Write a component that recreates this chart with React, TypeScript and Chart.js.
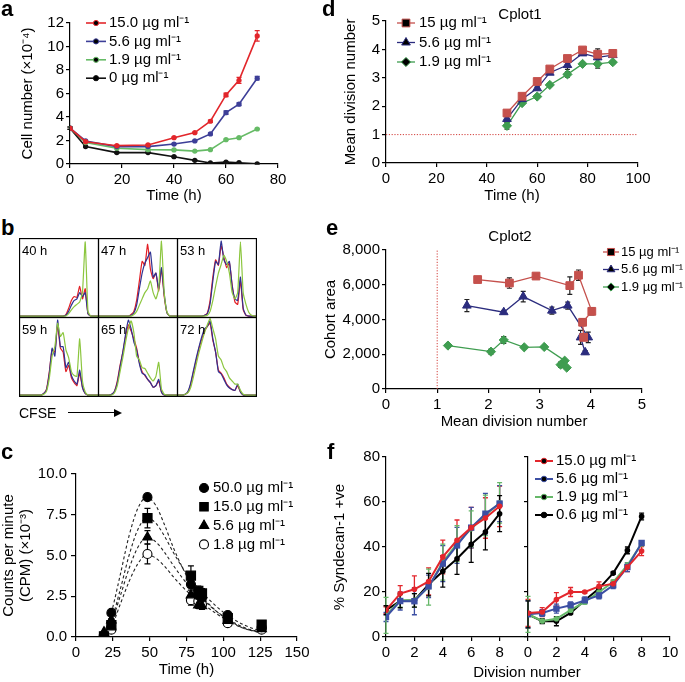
import React, { useEffect, useRef } from 'react';
import { Chart, registerables } from 'chart.js';
import * as helpers from 'chart.js/helpers';

Chart.register(...registerables);

const FONT = '"Liberation Sans", Arial, Helvetica, sans-serif';
Chart.defaults.font.family = FONT;
Chart.defaults.font.size = 15;
Chart.defaults.color = '#000';

// ---------------- DATA ----------------
// Panel a
const aTime = [0, 6, 18, 30, 40, 48, 54, 60, 65, 72];
const a15 = [3.05, 1.9, 1.56, 1.62, 2.24, 2.67, 3.64, 5.88, 7.12, 10.9];
const a56 = [3.05, 1.96, 1.48, 1.48, 1.7, 1.96, 2.56, 4.37, 5.09, 7.3];
const a19 = [3.05, 1.82, 1.34, 1.22, 1.2, 1.1, 1.22, 2.07, 2.24, 2.98];
const a0 = [3.05, 1.48, 0.97, 0.97, 0.62, 0.31, 0.09, 0.17, 0.11, 0.02];
const a15Err = [0.1, 0.05, 0.05, 0.05, 0.05, 0.05, 0.1, 0.15, 0.25, 0.45];
const a56Err = [0.1, 0.05, 0.05, 0.05, 0.05, 0.05, 0.08, 0.15, 0.12, 0.15];
const a19Err = [0.1, 0.05, 0.05, 0.05, 0.05, 0.05, 0.05, 0.05, 0.05, 0.05];
const a0Err = [0.1, 0.05, 0.05, 0.05, 0.05, 0.05, 0.03, 0.03, 0.03, 0.03];
const aLabels = ['15.0 µg ml⁻¹', '5.6 µg ml⁻¹', '1.9 µg ml⁻¹', '0 µg ml⁻¹'];

// Panel d
const dTime = [48, 54, 60, 65, 72, 78, 84, 90];
const d15 = [1.76, 2.35, 2.87, 3.31, 3.68, 3.98, 3.83, 3.86];
const d56 = [1.55, 2.25, 2.63, 3.18, 3.45, 3.86, 3.72, 3.8];
const d19 = [1.31, 2.11, 2.34, 2.75, 3.12, 3.49, 3.49, 3.55];
const d15Err = [0.05, 0.05, 0.05, 0.05, 0.05, 0.05, 0.1, 0.05];
const d56Err = [0.1, 0.05, 0.05, 0.05, 0.15, 0.05, 0.3, 0.05];
const d19Err = [0.12, 0.05, 0.05, 0.05, 0.1, 0.05, 0.15, 0.05];
const deLabels = ['15 µg ml⁻¹', '5.6 µg ml⁻¹', '1.9 µg ml⁻¹'];

// Panel e
const e15x = [1.79, 2.41, 2.93, 3.59, 3.76, 4.02, 3.84, 3.86];
const e15y = [6300, 6100, 6500, 5950, 6550, 4470, 3840, 2970];
const e15Err = [0, 300, 0, 500, 300, 200, 200, 0];
const e56x = [1.58, 2.3, 2.68, 3.24, 3.55, 3.95, 3.8, 3.89];
const e56y = [4800, 4420, 5320, 4510, 4800, 2970, 2970, 2110];
const e56Err = [350, 100, 300, 200, 200, 300, 400, 100];
const e19x = [1.21, 2.05, 2.3, 2.7, 3.09, 3.49, 3.41, 3.53];
const e19y = [2500, 2150, 2820, 2400, 2420, 1630, 1400, 1230];
const e19Err = [50, 150, 200, 50, 50, 50, 150, 50];

// Panel c
const cTime = [19, 24, 48.5, 78, 83, 85.5, 103, 126];
const c50 = [0.05, 1.48, 8.58, 3.23, 2.55, 2.4, 1.35, 0.6];
const c15 = [0.04, 0.72, 7.29, 3.76, 2.83, 2.67, 1.15, 0.76];
const c56 = [0.3, 1.03, 6.12, 2.57, 1.95, 1.9, 1.0, 0.5];
const c18 = [0.1, 0.45, 5.09, 2.26, 2.2, 2.0, 0.85, 0.45];
const c50Err = [0, 0.1, 0.1, 0.2, 0.2, 0.2, 0.1, 0.1];
const c15Err = [0, 0.1, 0.6, 0.6, 0.3, 0.3, 0.1, 0.1];
const c56Err = [0, 0.1, 0.4, 0.3, 0.2, 0.2, 0.1, 0.1];
const c18Err = [0, 0.1, 0.6, 0.3, 0.2, 0.2, 0.1, 0.1];
const cFitTime = [19, 24, 30, 36, 42, 48, 54, 60, 66, 72, 78, 85, 95, 105, 115, 126];
const cFit50 = [0.2, 1.5, 3.8, 6.2, 7.9, 8.57, 8.1, 6.9, 5.5, 4.3, 3.3, 2.55, 1.6, 0.95, 0.5, 0.25];
const cFit15 = [0.1, 1.0, 2.9, 5.0, 6.6, 7.3, 7.0, 6.2, 5.2, 4.3, 3.55, 2.8, 1.9, 1.2, 0.7, 0.35];
const cFit56 = [0.1, 0.9, 2.5, 4.2, 5.5, 6.1, 5.85, 5.2, 4.4, 3.65, 3.0, 2.4, 1.6, 1.0, 0.55, 0.3];
const cFit18 = [0.05, 0.6, 2.0, 3.4, 4.5, 5.05, 4.85, 4.35, 3.7, 3.1, 2.6, 2.1, 1.45, 0.9, 0.5, 0.28];
const cLabels = ['50.0 µg ml⁻¹', '15.0 µg ml⁻¹', '5.6 µg ml⁻¹', '1.8 µg ml⁻¹'];

// Panel f
const fDiv = [0, 1, 2, 3, 4, 5, 6, 7, 8];
const fL15 = [11.9, 19.3, 21.2, 24.7, 35.6, 43, 48.6, 52.9, 58.1];
const fL56 = [8.9, 16, 15.9, 22.5, 32.6, 40.7, 48.6, 54.8, 59.3];
const fL19 = [9.6, 16.3, 16.3, 22.2, 33.3, 41.5, 48.1, 54.1, 59.6];
const fL06 = [11.9, 16, 16.3, 23.3, 29.2, 34.8, 41.2, 46.7, 54.8];
const fL15Err = [1.5, 3.5, 6, 6, 7.5, 9, 9, 9, 9];
const fL56Err = [2, 4, 6, 5, 8, 8, 9, 9, 8];
const fL19Err = [8, 3, 3, 8, 8, 8, 8, 9, 9];
const fL06Err = [2, 3, 3, 5, 7, 7, 8, 8, 8];
const fR15 = [10.7, 11.1, 16.7, 20, 20, 22.5, 23.7, 31.1, 38.2];
const fR56 = [10.1, 10.7, 12.6, 14.1, 16.3, 18.5, 23, 31.1, 41.8];
const fR19 = [10.1, 7.1, 8.1, 11.9, 15.6, 20, 24.4, 31.9, 41.5];
const fR06 = [10.1, 7.0, 7.0, 10.7, 16.3, 21.5, 28.4, 38.5, 53.6];
const fR15Err = [6, 2, 3, 2, 0.5, 2, 1.5, 2, 2];
const fR56Err = [6, 1.5, 2, 1.5, 1.5, 1.5, 1.5, 2, 1];
const fR19Err = [8, 1, 1, 1, 1, 1, 1, 1, 1];
const fR06Err = [6, 1, 2, 0.5, 0.5, 0.5, 0.5, 1.5, 1.5];
const fLabels = ['15.0 µg ml⁻¹', '5.6 µg ml⁻¹', '1.9 µg ml⁻¹', '0.6 µg ml⁻¹'];

// Panel b (CFSE histograms, 30 bins, relative height)
const bTimes = ['40 h', '47 h', '53 h', '59 h', '65 h', '72 h'];
const h40r = [0,0,0,0,0,0,0,0,0,0, 0,0,0,0,0,0,0,0.02,0.1,0.2, 0.25,0.24,0.38,0.22,0.35,0.03,0,0,0,0];
const h40b = [0,0,0,0,0,0,0,0,0,0, 0,0,0,0,0,0,0,0.01,0.06,0.14, 0.2,0.22,0.3,0.25,0.3,0.03,0,0,0,0];
const h40g = [0,0,0,0,0,0,0,0,0,0, 0,0,0,0,0,0,0,0,0.03,0.08, 0.12,0.15,0.18,0.3,0.95,0.06,0,0,0,0];
const h47r = [0,0,0,0,0,0,0,0,0,0, 0,0,0.02,0.06,0.2,0.45,0.7,0.65,0.92,0.6, 0.48,0.55,0.32,0.6,0.25,0.04,0,0,0,0];
const h47b = [0,0,0,0,0,0,0,0,0,0, 0,0,0.01,0.04,0.14,0.35,0.55,0.68,0.75,0.82, 0.5,0.55,0.35,0.62,0.28,0.04,0,0,0,0];
const h47g = [0,0,0,0,0,0,0,0,0,0, 0,0,0,0.02,0.06,0.14,0.22,0.3,0.35,0.45, 0.3,0.22,0.35,0.96,0.3,0.05,0,0,0,0];
const h53r = [0,0,0,0,0,0,0,0,0,0, 0.01,0.04,0.2,0.5,0.72,0.65,0.9,0.75,0.62,0.68, 0.4,0.18,0.15,0.45,0.08,0.01,0,0,0,0];
const h53b = [0,0,0,0,0,0,0,0,0,0, 0.01,0.03,0.16,0.45,0.7,0.66,0.96,0.72,0.66,0.7, 0.38,0.22,0.2,0.5,0.1,0.01,0,0,0,0];
const h53g = [0,0,0,0,0,0,0,0,0,0, 0,0.01,0.06,0.2,0.38,0.55,0.66,0.78,0.7,0.55, 0.3,0.22,0.3,0.95,0.3,0.15,0.05,0.01,0,0];
const h59r = [0,0,0,0,0,0,0,0,0,0.02, 0.08,0.3,0.58,0.55,0.9,0.6,0.55,0.3,0.38,0.22, 0.16,0.12,0.28,0.1,0.02,0,0,0,0,0];
const h59b = [0,0,0,0,0,0,0,0,0,0.02, 0.07,0.28,0.6,0.5,0.96,0.62,0.62,0.35,0.42,0.25, 0.18,0.14,0.32,0.1,0.02,0,0,0,0,0];
const h59g = [0,0,0,0,0,0,0,0,0,0.01, 0.05,0.22,0.5,0.62,0.92,0.75,0.8,0.58,0.48,0.3, 0.25,0.24,0.72,0.18,0.04,0,0,0,0,0];
const h65r = [0,0,0,0,0,0.01,0.05,0.18,0.38,0.55, 0.75,0.9,0.82,0.72,0.6,0.42,0.3,0.25,0.2,0.16, 0.1,0.12,0.18,0.04,0,0,0,0,0,0];
const h65b = [0,0,0,0,0,0.01,0.05,0.16,0.36,0.55, 0.78,0.96,0.85,0.68,0.58,0.4,0.28,0.26,0.2,0.16, 0.1,0.12,0.2,0.04,0,0,0,0,0,0];
const h65g = [0,0,0,0,0,0,0.03,0.12,0.3,0.48, 0.68,0.85,0.95,0.8,0.5,0.45,0.35,0.34,0.28,0.22, 0.18,0.24,0.42,0.08,0.01,0,0,0,0,0];
const h72r = [0,0,0,0.01,0.04,0.14,0.3,0.45,0.6,0.72, 0.82,0.88,0.92,0.7,0.55,0.32,0.28,0.22,0.14,0.1, 0.07,0.06,0.12,0.04,0,0,0,0,0,0];
const h72b = [0,0,0,0.01,0.05,0.16,0.32,0.48,0.62,0.75, 0.85,0.88,0.95,0.72,0.55,0.3,0.27,0.2,0.13,0.09, 0.07,0.06,0.14,0.04,0,0,0,0,0,0];
const h72g = [0,0,0,0.01,0.03,0.1,0.24,0.4,0.55,0.68, 0.8,0.9,0.98,0.85,0.72,0.5,0.45,0.35,0.3,0.22, 0.18,0.14,0.14,0.06,0.01,0,0,0,0,0];
const bRed = [h40r, h47r, h53r, h59r, h65r, h72r];
const bBlue = [h40b, h47b, h53b, h59b, h65b, h72b];
const bGreen = [h40g, h47g, h53g, h59g, h65g, h72g];

// ---------------- STYLE ----------------
const A_COL = ['#e2262b', '#3d3f98', '#66bb66', '#111111'];
const DE_COL = ['#c5504c', '#2b2c7e', '#3f9d50'];
const F_COL = ['#e3262c', '#3c4fa3', '#66b869', '#000000'];
const B_COL = { r: '#e31e24', b: '#2e3192', g: '#8cc63f' };

// ---------------- PLUGINS ----------------
const textsPlugin = {
  id: 'texts',
  afterDraw(chart: any, _a: any, opts: any) {
    const items = opts && opts.items;
    if (!items) return;
    const ctx = chart.ctx;
    ctx.save();
    for (let i = 0; i < items.length; i++) {
      const it = items[i];
      ctx.font = `${it.bold ? 'bold ' : ''}${it.size || 15}px ${FONT}`;
      ctx.fillStyle = it.color || '#000';
      ctx.textAlign = it.align || 'left';
      ctx.textBaseline = 'middle';
      ctx.fillText(it.text, it.x, it.y);
    }
    ctx.restore();
  },
};

const legendPlugin = {
  id: 'miniLegend',
  afterDraw(chart: any, _a: any, o: any) {
    if (!o || !o.items) return;
    const ctx = chart.ctx;
    ctx.save();
    const items = o.items;
    for (let i = 0; i < items.length; i++) {
      const it = items[i];
      const y = o.y + i * o.dy;
      const mx = o.lineLen ? o.x + o.lineLen / 2 : o.x;
      if (o.lineLen) {
        ctx.strokeStyle = it.color;
        ctx.lineWidth = o.lineWidth || 1.5;
        ctx.beginPath();
        ctx.moveTo(o.x, y);
        ctx.lineTo(o.x + o.lineLen, y);
        ctx.stroke();
      }
      ctx.fillStyle = it.fill || it.color;
      ctx.strokeStyle = it.color;
      ctx.lineWidth = it.bw || 1;
      helpers.drawPoint(ctx, { pointStyle: it.style || 'circle', radius: it.r || 3, rotation: 0, borderWidth: it.bw || 1 } as any, mx, y);
      ctx.fillStyle = '#000';
      ctx.font = `${o.size || 15}px ${FONT}`;
      ctx.textAlign = 'left';
      ctx.textBaseline = 'middle';
      ctx.fillText(it.label, o.textX, y);
    }
    ctx.restore();
  },
};

const errorBarPlugin = {
  id: 'errorBars',
  beforeDatasetsDraw(chart: any) {
    const xs = chart.scales.x, ys = chart.scales.y;
    if (!xs || !ys) return;
    const ctx = chart.ctx;
    chart.data.datasets.forEach((ds: any) => {
      const errs = ds.errors;
      if (!errs) return;
      ctx.save();
      ctx.strokeStyle = ds.errColor || ds.borderColor;
      ctx.lineWidth = ds.errWidth || 1.2;
      const cap = ds.cap != null ? ds.cap : 3;
      ds.data.forEach((p: any, j: number) => {
        const e = errs[j];
        if (!e) return;
        const x = xs.getPixelForValue(p.x);
        const yt = ys.getPixelForValue(p.y + e);
        const yb = ys.getPixelForValue(p.y - e);
        ctx.beginPath();
        ctx.moveTo(x, yt); ctx.lineTo(x, yb);
        ctx.moveTo(x - cap, yt); ctx.lineTo(x + cap, yt);
        ctx.moveTo(x - cap, yb); ctx.lineTo(x + cap, yb);
        ctx.stroke();
      });
      ctx.restore();
    });
  },
};

const framePlugin = {
  id: 'frame',
  afterDatasetsDraw(chart: any, _a: any, opts: any) {
    if (!opts || !opts.show) return;
    const { ctx, chartArea: a } = chart;
    ctx.save();
    ctx.strokeStyle = '#000';
    ctx.lineWidth = 1.3;
    ctx.strokeRect(a.left + 0.5, a.top + 0.5, a.right - a.left - 1, a.bottom - a.top - 1);
    ctx.restore();
  },
};

Chart.register(textsPlugin as any, legendPlugin as any, errorBarPlugin as any, framePlugin as any);

// ---------------- HELPERS ----------------
type Box = { l: number; t: number; w: number; h: number };
type Area = { x0: number; x1: number; y0: number; y1: number };

function pad(box: Box, area: Area, yW: number, xH: number) {
  return {
    left: area.x0 - box.l - yW,
    top: area.y0 - box.t,
    right: box.l + box.w - area.x1,
    bottom: box.t + box.h - area.y1 - xH,
  };
}

function axis(o: any) {
  const a: any = {
    type: 'linear',
    min: o.min,
    max: o.max,
    afterFit: (s: any) => {
      if (o.w != null) s.width = o.w;
      if (o.h != null) s.height = o.h;
    },
    border: { display: true, color: '#000', width: 1.2 },
    grid: { display: true, drawOnChartArea: false, drawTicks: true, tickLength: o.tl != null ? o.tl : 4, color: '#000', lineWidth: 1.2 },
    ticks: { stepSize: o.step, padding: o.pad != null ? o.pad : 2, color: '#000', font: { size: 15, family: FONT }, autoSkip: false, maxRotation: 0, display: o.labels !== false },
    title: o.title
      ? { display: true, text: o.title, color: '#000', font: { size: 15, family: FONT, lineHeight: o.lh || 1.2 }, padding: o.tpad || 0 }
      : { display: false },
  };
  if (o.cb) a.ticks.callback = o.cb;
  if (o.abt) a.afterBuildTicks = o.abt;
  return a;
}

const baseOpts = (padding: any) => ({
  responsive: false,
  animation: false,
  events: [],
  layout: { autoPadding: false, padding },
});

const pts = (xs: number[], ys: number[]) => xs.map((x, i) => ({ x, y: ys[i] }));

// ---------------- PANEL CONFIGS ----------------
const boxA: Box = { l: 0, t: 0, w: 300, h: 205 };
const areaA: Area = { x0: 70, x1: 278, y0: 23, y1: 164 };
function cfgA() {
  const vals = [a15, a56, a19, a0];
  const errs = [a15Err, a56Err, a19Err, a0Err];
  return {
    type: 'line',
    data: {
      datasets: vals.map((v, i) => ({
        data: pts(aTime, v), errors: errs[i], cap: 2.5, errWidth: 1.2,
        borderColor: A_COL[i], backgroundColor: A_COL[i], borderWidth: 1.6,
        pointRadius: 2.6, pointBorderWidth: 0, pointBackgroundColor: A_COL[i],
      })),
    },
    options: {
      ...baseOpts(pad(boxA, areaA, 70, 41)),
      plugins: {
        legend: { display: false }, tooltip: { enabled: false },
        miniLegend: {
          x: 86 - boxA.l, lineLen: 20, textX: 109 - boxA.l, y: 23 - boxA.t, dy: 18.4, lineWidth: 1.6,
          items: aLabels.map((l, i) => ({ label: l, color: A_COL[i], style: 'circle', r: 2.6, bw: 0 })),
        },
      },
      scales: {
        x: axis({ min: 0, max: 80, step: 20, h: 41, title: 'Time (h)', tpad: { bottom: 0 }, pad: 3 }),
        y: axis({ min: 0, max: 12, step: 2, w: 70, title: 'Cell number (×10⁻⁴)', tpad: { top: 19 } }),
      },
    },
  };
}

const boxD: Box = { l: 330, t: 0, w: 355, h: 205 };
const areaD: Area = { x0: 386, x1: 638, y0: 21, y1: 163 };
function cfgD() {
  const vals = [d15, d56, d19];
  const errs = [d15Err, d56Err, d19Err];
  const styles = ['rect', 'triangle', 'rectRot'];
  const radii = [5.5, 5, 4.6];
  return {
    type: 'line',
    data: {
      datasets: [
        ...vals.map((v, i) => ({
          data: pts(dTime, v), errors: errs[i], cap: 2.5, errColor: '#222',
          borderColor: DE_COL[i], backgroundColor: DE_COL[i], borderWidth: 1.3,
          pointStyle: styles[i], pointRadius: radii[i], pointBorderWidth: 1, pointBackgroundColor: DE_COL[i],
        })),
        {
          data: [{ x: 0, y: 1 }, { x: 100, y: 1 }], borderColor: '#d2403c', borderWidth: 1,
          borderDash: [1.2, 1.6], pointRadius: 0,
        },
      ],
    },
    options: {
      ...baseOpts(pad(boxD, areaD, 56, 42)),
      plugins: {
        legend: { display: false }, tooltip: { enabled: false },
        texts: { items: [{ text: 'Cplot1', x: 520 - boxD.l, y: 15 - boxD.t, align: 'center', size: 15 }] },
        miniLegend: {
          x: 397 - boxD.l, lineLen: 18, textX: 419 - boxD.l, y: 23 - boxD.t, dy: 19.5, lineWidth: 1.3,
          items: deLabels.map((l, i) => ({ label: l, color: DE_COL[i], style: styles[i], r: radii[i] })),
        },
      },
      scales: {
        x: axis({ min: 0, max: 100, step: 20, h: 42, title: 'Time (h)', tpad: { bottom: 0 }, pad: 3 }),
        y: axis({ min: 0, max: 5, step: 1, w: 56, title: 'Mean division number', tpad: { top: 12 } }),
      },
    },
  };
}

const boxE: Box = { l: 310, t: 215, w: 375, h: 216 };
const areaE: Area = { x0: 386, x1: 642, y0: 250, y1: 389 };
function cfgE() {
  const xs = [e15x, e56x, e19x];
  const ys = [e15y, e56y, e19y];
  const errs = [e15Err, e56Err, e19Err];
  const styles = ['rect', 'triangle', 'rectRot'];
  const radii = [5.5, 5, 4.6];
  return {
    type: 'line',
    data: {
      datasets: [
        ...xs.map((xv, i) => ({
          data: pts(xv, ys[i]), errors: errs[i], cap: 2.5, errColor: '#222',
          borderColor: DE_COL[i], backgroundColor: DE_COL[i], borderWidth: 1.3,
          pointStyle: styles[i], pointRadius: radii[i], pointBorderWidth: 1, pointBackgroundColor: DE_COL[i],
        })),
        {
          data: [{ x: 1, y: 0 }, { x: 1, y: 8000 }], borderColor: '#d2403c', borderWidth: 1,
          borderDash: [1.2, 1.6], pointRadius: 0,
        },
      ],
    },
    options: {
      ...baseOpts(pad(boxE, areaE, 76, 42)),
      plugins: {
        legend: { display: false }, tooltip: { enabled: false },
        texts: { items: [{ text: 'Cplot2', x: 510 - boxE.l, y: 237 - boxE.t, align: 'center', size: 15 }] },
        miniLegend: {
          x: 603 - boxE.l, lineLen: 16, textX: 621 - boxE.l, y: 252 - boxE.t, dy: 17.5, lineWidth: 1.3, size: 13,
          items: deLabels.map((l, i) => ({ label: l, color: DE_COL[i], style: styles[i], r: radii[i] - 0.5 })),
        },
      },
      scales: {
        x: axis({ min: 0, max: 5, step: 1, h: 42, title: 'Mean division number', tpad: { bottom: 0 }, pad: 3 }),
        y: axis({ min: 0, max: 8000, step: 2000, w: 76, title: 'Cohort area', tpad: { top: 12 }, cb: (v: any) => Number(v).toLocaleString('en-US') }),
      },
    },
  };
}

const boxC: Box = { l: 0, t: 440, w: 320, h: 242 };
const areaC: Area = { x0: 76, x1: 297, y0: 474, y1: 637 };
function cfgC() {
  const vals = [c50, c15, c56, c18];
  const errs = [c50Err, c15Err, c56Err, c18Err];
  const fits = [cFit50, cFit15, cFit56, cFit18];
  const styles = ['circle', 'rect', 'triangle', 'circle'];
  const radii = [4.5, 6.5, 5.5, 4.5];
  const fills = ['#000', '#000', '#000', '#fff'];
  return {
    type: 'line',
    data: {
      datasets: [
        ...vals.map((v, i) => ({
          data: pts(cTime, v), errors: errs[i], cap: 3, errColor: '#000', showLine: false,
          borderColor: '#000', backgroundColor: fills[i], pointStyle: styles[i], pointRadius: radii[i],
          pointBorderWidth: 1.1, pointBackgroundColor: fills[i], pointBorderColor: '#000',
        })),
        ...fits.map((f) => ({
          data: pts(cFitTime, f), borderColor: '#222', borderWidth: 1.1, borderDash: [3, 2.5],
          pointRadius: 0, cubicInterpolationMode: 'monotone',
        })),
      ],
    },
    options: {
      ...baseOpts(pad(boxC, areaC, 76, 42)),
      plugins: {
        legend: { display: false }, tooltip: { enabled: false },
        miniLegend: {
          x: 204 - boxC.l, lineLen: 0, textX: 213 - boxC.l, y: 488 - boxC.t, dy: 18.8,
          items: cLabels.map((l, i) => ({ label: l, color: '#000', fill: fills[i], style: styles[i], r: i === 1 ? 6 : radii[i], bw: 1.1 })),
        },
      },
      scales: {
        x: axis({ min: 0, max: 150, step: 25, h: 42, title: 'Time (h)', tpad: { bottom: 0 }, pad: 3 }),
        y: axis({
          min: 0, max: 10, step: 2.5, w: 76, title: ['Counts per minute', '(CPM) (×10⁻³)'], lh: 1.1,
          tpad: { top: 1 }, pad: 4, tl: 5, cb: (v: any) => Number(v).toFixed(1),
        }),
      },
    },
  };
}

const boxFL: Box = { l: 320, t: 440, w: 215, h: 242 };
const areaFL: Area = { x0: 386, x1: 528, y0: 457, y1: 637 };
function cfgFL() {
  const vals = [fL15, fL56, fL19, fL06];
  const errs = [fL15Err, fL56Err, fL19Err, fL06Err];
  return {
    type: 'line',
    data: {
      datasets: vals.map((v, i) => ({
        data: pts(fDiv, v), errors: errs[i], cap: 2.5, errWidth: 1.3,
        borderColor: F_COL[i], backgroundColor: F_COL[i], borderWidth: 2,
        pointStyle: i === 1 ? 'rect' : 'circle', pointRadius: i === 1 ? 4.5 : 2.8, pointBorderWidth: 0, pointBackgroundColor: F_COL[i],
      })),
    },
    options: {
      ...baseOpts(pad(boxFL, areaFL, 66, 30)),
      plugins: { legend: { display: false }, tooltip: { enabled: false } },
      scales: {
        x: axis({ min: 0, max: 10, step: 2, h: 30, pad: 3, abt: (s: any) => { s.ticks = s.ticks.filter((t: any) => t.value <= 8); } }),
        y: axis({ min: 0, max: 80, step: 20, w: 66, title: '% Syndecan-1 +ve', tpad: { top: 11 } }),
      },
    },
  };
}

const boxFR: Box = { l: 330, t: 440, w: 355, h: 242 };
const areaFR: Area = { x0: 528, x1: 670, y0: 457, y1: 637 };
function cfgFR() {
  const vals = [fR15, fR56, fR19, fR06];
  const errs = [fR15Err, fR56Err, fR19Err, fR06Err];
  return {
    type: 'line',
    data: {
      datasets: vals.map((v, i) => ({
        data: pts(fDiv, v), errors: errs[i], cap: 2.5, errWidth: 1.3,
        borderColor: F_COL[i], backgroundColor: F_COL[i], borderWidth: 2,
        pointStyle: i === 1 ? 'rect' : 'circle', pointRadius: i === 1 ? 4.5 : 2.8, pointBorderWidth: 0, pointBackgroundColor: F_COL[i],
      })),
    },
    options: {
      ...baseOpts(pad(boxFR, areaFR, 8, 30)),
      plugins: {
        legend: { display: false }, tooltip: { enabled: false },
        texts: { items: [{ text: 'Division number', x: 527 - boxFR.l, y: 673 - boxFR.t, align: 'center', size: 15 }] },
        miniLegend: {
          x: 535 - boxFR.l, lineLen: 18, textX: 556 - boxFR.l, y: 461 - boxFR.t, dy: 18, lineWidth: 2,
          items: fLabels.map((l, i) => ({ label: l, color: F_COL[i], style: 'circle', r: 2.8, bw: 0 })),
        },
      },
      scales: {
        x: axis({ min: 0, max: 10, step: 2, h: 30, pad: 3 }),
        y: axis({ min: 0, max: 80, step: 20, w: 8, labels: false }),
      },
    },
  };
}

const bCols = [19, 98, 177];
const bRows = [238, 317];
function cfgB(k: number) {
  const mk = (v: number[], c: string) => ({
    data: v.map((y, i) => ({ x: i, y })), borderColor: c, borderWidth: 1.2, pointRadius: 0, tension: 0.15,
  });
  return {
    type: 'line',
    data: { datasets: [mk(bGreen[k], B_COL.g), mk(bBlue[k], B_COL.b), mk(bRed[k], B_COL.r)] },
    options: {
      ...baseOpts({ left: 0, top: 0, right: 0, bottom: 0 }),
      plugins: {
        legend: { display: false }, tooltip: { enabled: false },
        frame: { show: true },
        texts: { items: [{ text: bTimes[k], x: 3, y: 13, size: 13 }] },
      },
      scales: {
        x: { type: 'linear', min: 0, max: 29, display: false },
        y: { type: 'linear', min: -0.025, max: 1.0, display: false },
      },
    },
  };
}

// ---------------- COMPONENTS ----------------
function ChartBox({ box, make }: { box: Box; make: () => any }) {
  const ref = useRef<HTMLCanvasElement | null>(null);
  useEffect(() => {
    const chart = new Chart(ref.current as HTMLCanvasElement, make());
    return () => chart.destroy();
  }, []);
  return (
    <canvas
      ref={ref}
      width={box.w}
      height={box.h}
      style={{ position: 'absolute', left: box.l, top: box.t, width: box.w, height: box.h }}
    />
  );
}

const letterStyle = (l: number, t: number): React.CSSProperties => ({
  position: 'absolute', left: l, top: t, font: `bold 22px ${FONT}`, lineHeight: '22px', color: '#000',
});

export default function App() {
  const bBoxes: Box[] = [];
  for (let k = 0; k < 6; k++) {
    bBoxes.push({ l: bCols[k % 3], t: bRows[Math.floor(k / 3)], w: 80, h: 80 });
  }
  return (
    <div style={{ position: 'absolute', left: 0, top: 0, width: 685, height: 682, background: '#fff', overflow: 'hidden' }}>
      <ChartBox box={boxA} make={cfgA} />
      <ChartBox box={boxD} make={cfgD} />
      <ChartBox box={boxE} make={cfgE} />
      <ChartBox box={boxC} make={cfgC} />
      <ChartBox box={boxFL} make={cfgFL} />
      <ChartBox box={boxFR} make={cfgFR} />
      {bBoxes.map((b, k) => (
        <ChartBox key={k} box={b} make={() => cfgB(k)} />
      ))}
      <div style={letterStyle(1, -2)}>a</div>
      <div style={letterStyle(322, -2)}>d</div>
      <div style={letterStyle(1, 217)}>b</div>
      <div style={letterStyle(326, 217)}>e</div>
      <div style={letterStyle(1, 441)}>c</div>
      <div style={letterStyle(327, 441)}>f</div>
      <div style={{ position: 'absolute', left: 19, top: 406, font: `14px ${FONT}`, lineHeight: '14px' }}>CFSE</div>
      <div style={{ position: 'absolute', left: 68, top: 412, width: 48, height: 0, borderTop: '1.3px solid #000' }} />
      <div
        style={{
          position: 'absolute', left: 114, top: 409, width: 0, height: 0,
          borderTop: '4px solid transparent', borderBottom: '4px solid transparent', borderLeft: '8px solid #000',
        }}
      />
    </div>
  );
}
